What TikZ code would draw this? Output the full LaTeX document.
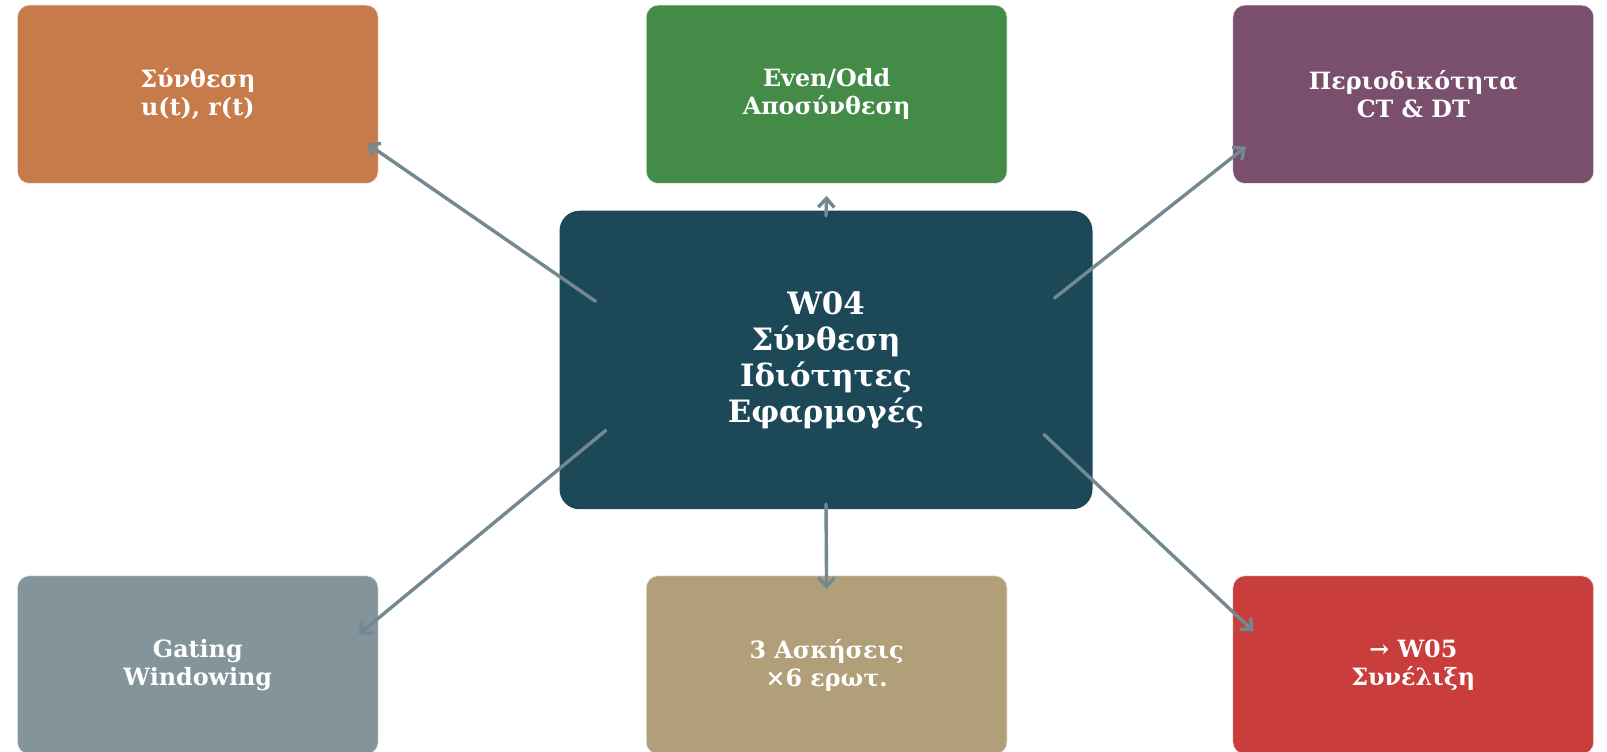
\documentclass[tikz,border=0pt]{standalone}
\usepackage{fontspec}
\setmainfont{DejaVu Serif}
\usetikzlibrary{arrows.meta,calc}

\definecolor{hubblue}{HTML}{1C4858}
\definecolor{cardorange}{HTML}{C77A4A}
\definecolor{cardgreen}{HTML}{458B48}
\definecolor{cardplum}{HTML}{7A4E6D}
\definecolor{cardslate}{HTML}{83959B}
\definecolor{cardsand}{HTML}{B09F78}
\definecolor{cardred}{HTML}{CA3D3D}
\definecolor{arrowgray}{HTML}{748892}

\begin{document}
\begin{tikzpicture}[
  x=1pt, y=1pt,
  >={Straight Barb[length=9pt,width=16pt]},
  every node/.style={text=white, align=center, font=\bfseries\fontsize{23.8}{28}\selectfont},
  card/.style={draw=black!8, line width=0.6pt, rounded corners=12pt, minimum width=360.8pt, minimum height=178.4pt},
  hubbox/.style={rounded corners=20pt, minimum width=533pt, minimum height=298.5pt, font=\bfseries\fontsize{30.8}{36}\selectfont},
  link/.style={->, draw=arrowgray, line width=3.4pt, line cap=round}
]
\useasboundingbox (0,0) rectangle (1607,752);

% centre of the map
\node[hubbox, fill=hubblue] (hub) at (826,392) {W04\\Σύνθεση\\Ιδιότητες\\Εφαρμογές};

% top row
\node[card, fill=cardorange] (synth) at (197.8,657.7) {Σύνθεση\\u(t), r(t)};
\node[card, fill=cardgreen] (evenodd) at (826.6,657.7) {Even/Odd\\Αποσύνθεση};
\node[card, fill=cardplum] (period) at (1413.3,657.7) {Περιοδικότητα\\CT \& DT};

% bottom row
\node[card, fill=cardslate] (gating) at (197.8,87) {Gating\\Windowing};
\node[card, fill=cardsand] (exer) at (826.6,87) {3 Ασκήσεις\\×6 ερωτ.};
\node[card, fill=cardred] (next) at (1413.3,87) {→ W05\\Συνέλιξη};

% spokes
\draw[link] ($(hub.center)+(-230.5,58.7)$) -- ($(synth.center)+(169.2,-49.2)$);
\draw[link] ($(hub.center)+(0,144)$) -- ($(evenodd.center)+(0,-101.5)$);
\draw[link] ($(hub.center)+(228.6,62)$) -- ($(period.center)+(-167.3,-52.3)$);
\draw[link] ($(hub.center)+(-220.3,-70.5)$) -- ($(gating.center)+(160.9,30.6)$);
\draw[link] ($(hub.center)+(0,-144)$) -- ($(exer.center)+(0,76)$);
\draw[link] ($(hub.center)+(218,-74.5)$) -- ($(next.center)+(-159.8,33.7)$);
\end{tikzpicture}
\end{document}
